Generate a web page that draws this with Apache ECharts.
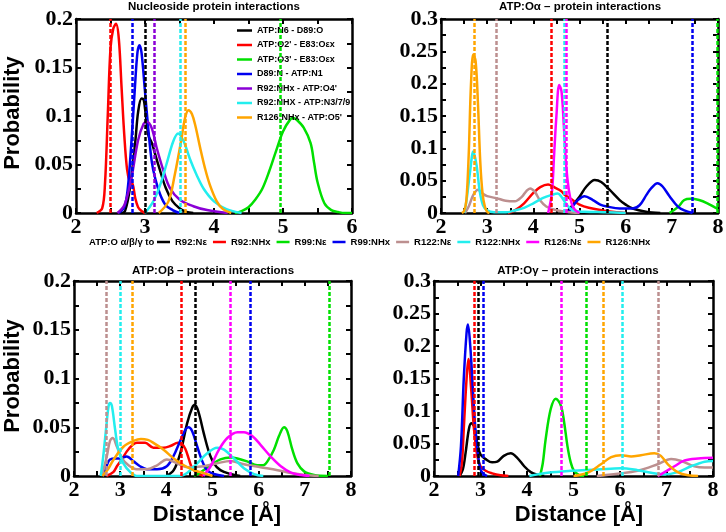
<!DOCTYPE html>
<html><head><meta charset="utf-8">
<script src="https://cdn.jsdelivr.net/npm/echarts@6/dist/echarts.min.js"></script>
<style>html,body{margin:0;padding:0;background:#fff}#c{width:726px;height:532px}</style>
</head><body><div id="c"></div>
<script>
// ---------- axis ranges / tick labels ----------
const xRangeTL = [2, 6];
const xRangeOther = [2, 8];
const yMaxTL = 0.2, yMaxTR = 0.3, yMaxBL = 0.2, yMaxBR = 0.3;
const xTickStep = 1, yTickStep = 0.05;

// ---------- names ----------
const tlNames = ["ATP:N6 - D89:O", "ATP:O2' - E83:O\u03b5x", "ATP:O3' - E83:O\u03b5x", "D89:N - ATP:N1",
  "R92:NHx - ATP:O4'", "R92:NHX - ATP:N3/7/9", "R126:NHx - ATP:O5'"];
const tlColors = ["#000000", "#ff0000", "#00e000", "#0000f0", "#8a00d6", "#22eeee", "#ffa500"];
const resNames = ["R92:N\u03b5", "R92:NHx", "R99:N\u03b5", "R99:NHx", "R122:N\u03b5", "R122:NHx", "R126:N\u03b5", "R126:NHx"];
const resColors = ["#000000", "#ff0000", "#00e000", "#0000f0", "#bc8f8f", "#22eeee", "#ff00ff", "#ffa500"];

// ---------- Nucleoside panel (TL) ----------
const tlBlack = [[2.65,0],[2.71,0.002],[2.78,0.025],[2.86,0.074],[2.9,0.104],[2.95,0.118],[2.98,0.117],[3.0,0.108],[3.05,0.08],[3.1,0.072],[3.15,0.06],[3.2,0.048],[3.3,0.026],[3.4,0.012],[3.5,0.005],[3.6,0.001],[3.7,0]];
const tlRed = [[2.3,0],[2.38,0.005],[2.42,0.03],[2.46,0.1],[2.5,0.17],[2.54,0.19],[2.58,0.195],[2.62,0.18],[2.66,0.13],[2.7,0.08],[2.74,0.045],[2.78,0.032],[2.82,0.03],[2.86,0.015],[2.9,0.006],[2.95,0.002],[3.0,0]];
const tlGreen = [[4.3,0],[4.4,0.002],[4.5,0.006],[4.6,0.014],[4.7,0.025],[4.8,0.043],[4.9,0.064],[5.0,0.084],[5.1,0.096],[5.15,0.098],[5.2,0.096],[5.3,0.088],[5.4,0.072],[5.45,0.052],[5.5,0.032],[5.6,0.01],[5.7,0.003],[5.8,0.001],[5.9,0],[6.0,0]];
const tlBlue = [[2.62,0],[2.7,0.006],[2.75,0.025],[2.8,0.07],[2.85,0.125],[2.89,0.165],[2.92,0.173],[2.95,0.165],[3.0,0.125],[3.05,0.085],[3.1,0.052],[3.15,0.035],[3.22,0.019],[3.3,0.008],[3.4,0.003],[3.5,0]];
const tlPurple = [[2.6,0],[2.7,0.008],[2.8,0.035],[2.9,0.075],[2.98,0.092],[3.03,0.094],[3.1,0.087],[3.17,0.067],[3.27,0.043],[3.36,0.026],[3.5,0.014],[3.7,0.007],[3.9,0.003],[4.2,0]];
const tlCyan = [[3.0,0],[3.12,0.012],[3.22,0.029],[3.31,0.05],[3.41,0.074],[3.48,0.082],[3.56,0.074],[3.65,0.056],[3.75,0.039],[3.85,0.025],[4.0,0.012],[4.18,0.004],[4.4,0]];
const tlOrange = [[3.2,0],[3.34,0.012],[3.43,0.039],[3.53,0.077],[3.58,0.098],[3.63,0.106],[3.68,0.102],[3.73,0.09],[3.8,0.067],[3.87,0.046],[3.94,0.029],[4.04,0.012],[4.13,0.004],[4.25,0]];
const tlDashed = [3.01, 2.5, 4.96, 2.81, 3.13, 3.51, 3.58];

// ---------- ATP:O alpha (TR) ----------
const trBlack = [[4.7,0],[4.85,0.012],[5.0,0.025],[5.15,0.041],[5.33,0.051],[5.47,0.048],[5.65,0.036],[5.87,0.02],[6.0,0.013],[6.15,0.007],[6.44,0.002],[6.75,0]];
const trRed = [[3.45,0],[3.6,0.004],[3.8,0.015],[4.0,0.031],[4.15,0.04],[4.32,0.044],[4.5,0.038],[4.6,0.034],[4.7,0.027],[4.85,0.02],[5.0,0.013],[5.2,0.008],[5.5,0.004],[5.8,0.001],[6.0,0]];
const trGreen = [[6.95,0],[7.13,0.009],[7.27,0.02],[7.41,0.022],[7.59,0.02],[7.77,0.015],[7.95,0.008],[8.0,0.007]];
const trBlue = [[4.75,0],[4.85,0.01],[4.95,0.019],[5.11,0.026],[5.29,0.02],[5.45,0.013],[5.6,0.01],[5.87,0.007],[6.15,0.007],[6.3,0.012],[6.45,0.028],[6.55,0.038],[6.69,0.046],[6.8,0.041],[6.95,0.026],[7.13,0.01],[7.27,0.004],[7.45,0]];
const trBrown = [[2.52,0],[2.6,0.01],[2.7,0.028],[2.8,0.036],[2.9,0.03],[3.0,0.026],[3.2,0.023],[3.4,0.019],[3.6,0.018],[3.75,0.025],[3.85,0.034],[3.93,0.038],[4.03,0.033],[4.14,0.02],[4.28,0.01],[4.46,0.005],[4.7,0.002],[5.0,0]];
const trCyan = [[2.5,0],[2.55,0.018],[2.63,0.064],[2.7,0.095],[2.77,0.074],[2.84,0.033],[2.91,0.012],[3.0,0.004],[3.15,0.001],[3.4,0.001],[3.6,0.004],[3.8,0.008],[4.0,0.015],[4.2,0.023],[4.4,0.028],[4.53,0.03],[4.6,0.026],[4.7,0.015],[4.8,0.007],[4.9,0.003],[5.1,0.002],[5.6,0.001],[6.0,0]];
const trMagenta = [[4.32,0],[4.4,0.03],[4.45,0.09],[4.5,0.15],[4.56,0.198],[4.61,0.188],[4.66,0.136],[4.71,0.074],[4.77,0.035],[4.83,0.015],[4.9,0.005],[5.0,0]];
const trOrange = [[2.45,0],[2.5,0.003],[2.55,0.02],[2.6,0.09],[2.65,0.2],[2.7,0.245],[2.75,0.235],[2.8,0.17],[2.85,0.08],[2.9,0.03],[2.95,0.01],[3.0,0.002],[3.05,0]];
const trDashed = [5.6, 4.39, 7.98, 7.45, 3.19, 4.66, 4.71, 2.72];

// ---------- ATP:O beta (BL) ----------
const blBlack = [[4.0,0],[4.16,0.006],[4.3,0.023],[4.45,0.054],[4.56,0.07],[4.62,0.073],[4.7,0.065],[4.81,0.044],[4.92,0.025],[5.03,0.013],[5.17,0.006],[5.39,0.002],[5.6,0]];
const blRed = [[2.7,0],[2.85,0.004],[2.93,0.01],[3.05,0.018],[3.14,0.025],[3.25,0.031],[3.36,0.034],[3.54,0.034],[3.72,0.029],[3.94,0.029],[4.1,0.031],[4.25,0.034],[4.33,0.033],[4.41,0.028],[4.49,0.017],[4.56,0.008],[4.67,0.003],[4.8,0]];
const blGreen = [[4.6,0],[4.75,0.004],[4.96,0.011],[5.17,0.017],[5.39,0.019],[5.54,0.018],[5.75,0.015],[5.97,0.011],[6.1,0.011],[6.19,0.015],[6.33,0.027],[6.44,0.041],[6.55,0.05],[6.62,0.046],[6.73,0.027],[6.84,0.013],[6.99,0.0045],[7.2,0.001],[7.5,0]];
const blBlue = [[2.65,0],[2.72,0.012],[2.78,0.017],[2.9,0.018],[3.0,0.018],[3.14,0.02],[3.29,0.015],[3.43,0.01],[3.58,0.007],[3.8,0.007],[4.01,0.01],[4.15,0.02],[4.3,0.036],[4.42,0.048],[4.48,0.05],[4.56,0.046],[4.67,0.03],[4.78,0.015],[4.88,0.006],[5.03,0.002],[5.25,0]];
const blBrown = [[2.6,0],[2.71,0.02],[2.78,0.036],[2.84,0.039],[2.93,0.03],[3.04,0.018],[3.18,0.011],[3.36,0.007],[3.58,0.007],[3.8,0.011],[4.01,0.017],[4.23,0.013],[4.45,0.009],[4.81,0.01],[5.1,0.013],[5.39,0.0155],[5.68,0.012],[6.04,0.009],[6.41,0.006],[6.7,0.003],[7.0,0.001],[7.3,0]];
const blCyan = [[2.58,0],[2.64,0.023],[2.7,0.051],[2.75,0.072],[2.78,0.075],[2.82,0.072],[2.89,0.048],[2.96,0.027],[3.07,0.013],[3.22,0.004],[3.36,0],[4.3,0],[4.45,0.003],[4.67,0.013],[4.88,0.023],[5.1,0.029],[5.25,0.027],[5.46,0.018],[5.68,0.008],[5.9,0.002],[6.1,0]];
const blMagenta = [[4.8,0],[4.96,0.01],[5.14,0.027],[5.32,0.039],[5.54,0.045],[5.68,0.045],[5.86,0.041],[6.04,0.032],[6.26,0.02],[6.48,0.01],[6.7,0.0035],[6.91,0.001],[7.1,0]];
const blOrange = [[2.62,0],[2.75,0.008],[2.86,0.017],[3.07,0.03],[3.29,0.036],[3.45,0.038],[3.6,0.037],[3.72,0.034],[3.94,0.027],[4.16,0.018],[4.38,0.011],[4.59,0.006],[4.81,0.003],[5.0,0]];
const blDashed = [4.62, 4.32, 7.53, 5.81, 2.70, 3.0, 5.39, 3.27];

// ---------- ATP:O gamma (BR) ----------
const brBlack = [[2.55,0],[2.62,0.01],[2.68,0.036],[2.75,0.072],[2.8,0.081],[2.86,0.077],[2.93,0.051],[3.0,0.033],[3.11,0.026],[3.25,0.021],[3.36,0.022],[3.5,0.031],[3.65,0.035],[3.79,0.028],[3.94,0.015],[4.08,0.006],[4.22,0.002],[4.37,0]];
const brRed = [[2.55,0],[2.6,0.02],[2.64,0.072],[2.7,0.149],[2.74,0.18],[2.8,0.133],[2.86,0.072],[2.93,0.031],[3.0,0.015],[3.11,0.008],[3.25,0.004],[3.43,0.001],[3.6,0]];
const brGreen = [[4.28,0],[4.34,0.02],[4.4,0.056],[4.51,0.103],[4.62,0.119],[4.73,0.108],[4.8,0.082],[4.87,0.046],[4.94,0.021],[5.01,0.008],[5.12,0.0015],[5.23,0]];
const brBlue = [[2.52,0],[2.58,0.046],[2.64,0.149],[2.7,0.22],[2.73,0.233],[2.78,0.2],[2.84,0.128],[2.89,0.072],[2.95,0.031],[3.0,0.01],[3.07,0.003],[3.14,0]];
const brBrown = [[5.5,0],[5.95,0.0035],[6.38,0.008],[6.81,0.018],[7.1,0.026],[7.32,0.023],[7.6,0.015],[7.82,0.013],[8.0,0.013]];
const brCyan = [[4.05,0],[4.44,0.005],[4.94,0.008],[5.52,0.01],[6.02,0.012],[6.38,0.009],[6.67,0.005],[6.96,0.0025],[7.24,0.006],[7.53,0.015],[7.82,0.022],[8.0,0.023]];
const brMagenta = [[6.81,0],[6.96,0.006],[7.17,0.015],[7.39,0.024],[7.68,0.027],[8.0,0.028]];
const brOrange = [[5.0,0],[5.3,0.005],[5.59,0.018],[5.81,0.029],[6.02,0.032],[6.24,0.03],[6.45,0.032],[6.74,0.035],[6.88,0.031],[7.03,0.018],[7.24,0.006],[7.46,0.001],[7.68,0]];
const brDashed = [2.96, 2.86, 5.27, 3.06, 6.83, 6.04, 4.74, 5.65];

// ---------- build ----------
const grids = [
  {left: 76, top: 19, width: 276, height: 194},
  {left: 441, top: 19, width: 277, height: 194},
  {left: 74, top: 281, width: 277, height: 195},
  {left: 434, top: 281, width: 279, height: 195}
];
const xMaxes = [xRangeTL[1], xRangeOther[1], xRangeOther[1], xRangeOther[1]];
const yMaxes = [yMaxTL, yMaxTR, yMaxBL, yMaxBR];

const labelFont = {fontFamily: 'Liberation Serif', fontWeight: 'bold', fontSize: 22, color: '#000'};
const lineAx = {show: true, onZero: false, lineStyle: {color: '#000', width: 2.5}};
const tickAx = {show: true, inside: true, length: 5, lineStyle: {color: '#000', width: 2}};
const minorAx = {show: true, splitNumber: 2, length: 5, lineStyle: {color: '#000', width: 2}};

const xAxes = [], yAxes = [];
grids.forEach((g, i) => {
  ['bottom', 'top'].forEach(pos => xAxes.push({
    type: 'value', gridIndex: i, position: pos, min: xRangeTL[0], max: xMaxes[i], interval: xTickStep,
    axisLine: lineAx, axisTick: tickAx, minorTick: minorAx, splitLine: {show: false},
    axisLabel: Object.assign({show: pos === 'bottom', margin: 3}, labelFont)
  }));
  ['left', 'right'].forEach(pos => yAxes.push({
    type: 'value', gridIndex: i, position: pos, min: 0, max: yMaxes[i], interval: yTickStep,
    axisLine: lineAx, axisTick: tickAx, minorTick: minorAx, splitLine: {show: false},
    axisLabel: Object.assign({show: pos === 'left', margin: 3}, labelFont)
  }));
});

function mk(name, data, color, gi, dashX) {
  return {
    type: 'line', name, data, xAxisIndex: gi * 2, yAxisIndex: gi * 2,
    showSymbol: false, symbol: 'none', smooth: 0.35, clip: true, color,
    lineStyle: {color, width: 2.5}, itemStyle: {color},
    markLine: {silent: true, symbol: ['none', 'none'], label: {show: false}, animation: false,
      lineStyle: {color, width: 2.5, type: [4, 2]}, data: [{xAxis: dashX}]}
  };
}

const tlData = [tlBlack, tlRed, tlGreen, tlBlue, tlPurple, tlCyan, tlOrange];
const trData = [trBlack, trRed, trGreen, trBlue, trBrown, trCyan, trMagenta, trOrange];
const blData = [blBlack, blRed, blGreen, blBlue, blBrown, blCyan, blMagenta, blOrange];
const brData = [brBlack, brRed, brGreen, brBlue, brBrown, brCyan, brMagenta, brOrange];

const series = [];
tlData.forEach((d, k) => series.push(mk(tlNames[k], d, tlColors[k], 0, tlDashed[k])));
[[trData, trDashed], [blData, blDashed], [brData, brDashed]].forEach(([arr, dsh], p) => {
  arr.forEach((d, k) => series.push(mk(resNames[k], d, resColors[k], p + 1, dsh[k])));
});

const titleFont = 'bold 11.5px "Liberation Sans"';
const bigFont = 'bold 22px "Liberation Sans"';
function txt(text, x, y, font, rot, align) {
  return {type: 'text', x, y, rotation: rot || 0, silent: true,
    style: {text, font, fill: '#000', textAlign: align || 'center', textVerticalAlign: 'middle'}};
}

const option = {
  animation: false,
  backgroundColor: '#fff',
  grid: grids.map(g => Object.assign({outerBoundsMode: 'none', containLabel: false}, g)),
  xAxis: xAxes,
  yAxis: yAxes,
  legend: [
    {data: tlNames, orient: 'vertical', left: 232, top: 20, itemWidth: 15, itemHeight: 2.5, itemGap: 3.5,
      icon: 'rect', selectedMode: false,
      textStyle: {fontFamily: 'Liberation Sans', fontWeight: 'bold', fontSize: 9, color: '#000', lineHeight: 11}},
    {data: resNames, orient: 'horizontal', left: 157, top: 236, itemWidth: 13, itemHeight: 2.5, itemGap: 6,
      icon: 'rect', selectedMode: false, padding: 0,
      textStyle: {fontFamily: 'Liberation Sans', fontWeight: 'bold', fontSize: 9.5, color: '#000', lineHeight: 12}}
  ],
  graphic: [
    txt('Nucleoside protein interactions', 214, 7, titleFont),
    txt('ATP:O\u03b1 \u2013 protein interactions', 580, 7, titleFont),
    txt('ATP:O\u03b2 \u2013 protein interactions', 213, 271, titleFont),
    txt('ATP:O\u03b3 \u2013 protein interactions', 578, 271, titleFont),
    txt('Probability', 13, 113, bigFont, Math.PI / 2),
    txt('Probability', 13, 376, bigFont, Math.PI / 2),
    txt('Distance [\u00c5]', 217, 515, bigFont),
    txt('Distance [\u00c5]', 579, 515, bigFont),
    txt('ATP:O \u03b1/\u03b2/\u03b3 to', 89, 242, 'bold 9.5px "Liberation Sans"', 0, 'left')
  ],
  series
};
const chart = echarts.init(document.getElementById('c'), null, {renderer: 'canvas'});
chart.setOption(option);
</script></body></html>
